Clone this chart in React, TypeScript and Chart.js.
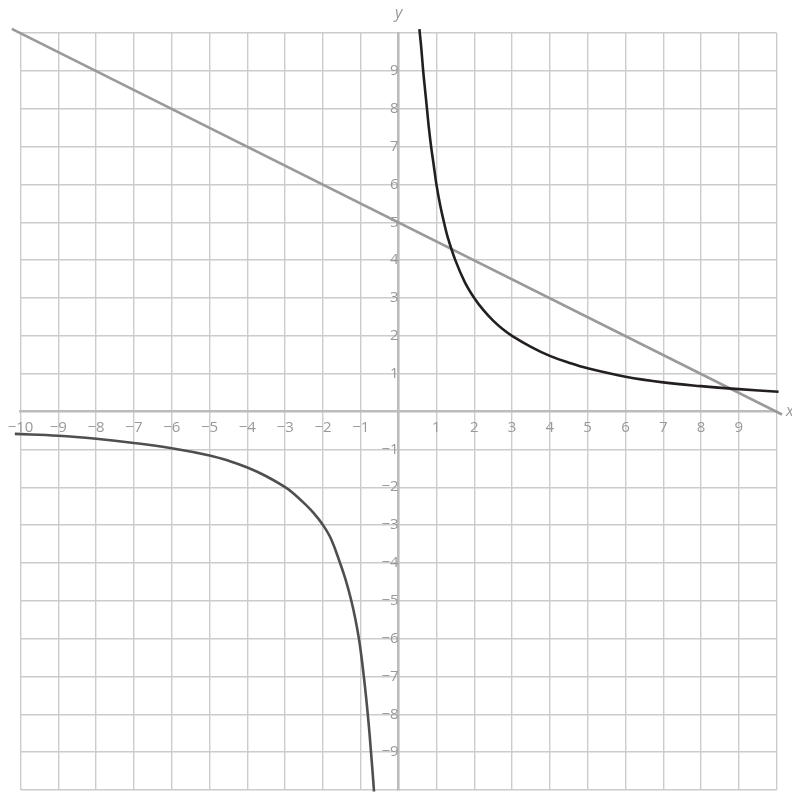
import React, { useEffect, useRef } from "react";
import { Chart, registerables } from "chart.js";

Chart.register(...registerables);

// Straight line
const lineX = [-10.23, 10.14];
const lineY = [10.11, -0.08];

// Upper branch of the curve
const upperX = [0.55, 0.6, 0.65, 0.7, 0.75, 0.8, 0.86, 0.93, 1, 1.1, 1.2, 1.3, 1.5, 1.75, 2, 2.25, 2.5, 2.75, 3, 3.5, 4, 4.5, 5, 6, 7, 8, 9, 10.05];
const upperY = [10.1, 9.6, 9, 8.5, 8, 7.5, 7, 6.5, 6, 5.45, 5, 4.6, 4, 3.42, 3, 2.67, 2.4, 2.18, 2, 1.71, 1.47, 1.29, 1.14, 0.92, 0.77, 0.67, 0.59, 0.52];

// Lower branch of the curve
const lowerX = [-10.15, -9, -8, -7, -6, -5, -4.5, -4, -3.5, -3, -2.75, -2.5, -2.25, -2, -1.78, -1.55, -1.4, -1.25, -1.14, -1.05, -0.98, -0.92, -0.865, -0.815, -0.77, -0.73, -0.69, -0.65];
const lowerY = [-0.59, -0.64, -0.72, -0.83, -0.97, -1.16, -1.3, -1.48, -1.71, -2, -2.19, -2.42, -2.68, -3, -3.38, -4, -4.45, -5, -5.5, -6, -6.5, -7, -7.5, -8, -8.5, -9, -9.5, -10.04];

// Tick labels shown on each axis
const xTickValues = [-10, -9, -8, -7, -6, -5, -4, -3, -2, -1, 1, 2, 3, 4, 5, 6, 7, 8, 9];
const yTickValues = [-9, -8, -7, -6, -5, -4, -3, -2, -1, 1, 2, 3, 4, 5, 6, 7, 8, 9];

const axisTitleX = "x";
const axisTitleY = "y";

const fmt = (v: number) => (v < 0 ? "\u2212" + Math.abs(v) : String(v));

const toPoints = (xs: number[], ys: number[]) => xs.map((x, i) => ({ x, y: ys[i] }));

export default function App() {
  const ref = useRef<HTMLCanvasElement | null>(null);

  useEffect(() => {
    if (!ref.current) return;
    const labelColor = "#999999";
    const titlePlugin = {
      id: "axisTitles",
      afterDraw(chart: any) {
        const ctx = chart.ctx;
        const xs = chart.scales.x;
        const ys = chart.scales.y;
        ctx.save();
        ctx.fillStyle = labelColor;
        ctx.font = "italic 16px 'Open Sans'";
        ctx.textBaseline = "middle";
        ctx.textAlign = "center";
        ctx.fillText(axisTitleY, xs.getPixelForValue(0), 13);
        ctx.textAlign = "left";
        ctx.fillText(axisTitleX, 786, ys.getPixelForValue(0));
        ctx.restore();
      },
    };

    const gridColor = (c: any) => (c.tick && c.tick.value === 0 ? "rgba(0,0,0,0)" : "#cccccc");
    const allTicks = (s: any) => {
      const t = [];
      for (let v = -10; v <= 10; v++) t.push({ value: v });
      s.ticks = t;
    };
    const noPad = (s: any) => {
      s.paddingTop = 0;
      s.paddingBottom = 0;
      s.paddingLeft = 0;
      s.paddingRight = 0;
    };

    const curve = {
      fill: false,
      pointRadius: 0,
      borderWidth: 2.6,
      tension: 0.4,
      capBezierPoints: false,
      clip: false,
    };

    const chart = new Chart(ref.current, {
      type: "line",
      data: {
        datasets: [
          { ...curve, data: toPoints(upperX, upperY), borderColor: "#231f20" } as any,
          { ...curve, data: toPoints(lowerX, lowerY), borderColor: "#4f4f4f" } as any,
          { ...curve, tension: 0, data: toPoints(lineX, lineY), borderColor: "#9a9a9a" } as any,
        ],
      },
      options: {
        animation: false,
        responsive: false,
        devicePixelRatio: 1,
        layout: { padding: { left: 20.5, top: 33, right: 15.3, bottom: 3 } },
        plugins: { legend: { display: false }, tooltip: { enabled: false } },
        events: [],
        scales: {
          x: {
            type: "linear",
            min: -10,
            max: 10,
            position: { y: 0 } as any,
            afterBuildTicks: allTicks,
            afterFit: noPad,
            ticks: {
              autoSkip: false,
              maxRotation: 0,
              padding: 7,
              color: labelColor,
              font: { family: "'Open Sans'", size: 15 },
              callback: (v: any) => (xTickValues.includes(Number(v)) ? fmt(Number(v)) : ""),
            },
            grid: { color: gridColor, lineWidth: 1.4, drawTicks: false },
            border: { color: "#bcbcbc", width: 2.6 },
          },
          y: {
            type: "linear",
            min: -10,
            max: 10,
            position: { x: 0 } as any,
            afterBuildTicks: allTicks,
            afterFit: noPad,
            ticks: {
              autoSkip: false,
              padding: 9,
              color: labelColor,
              font: { family: "'Open Sans'", size: 15 },
              callback: (v: any) => (yTickValues.includes(Number(v)) ? fmt(Number(v)) : ""),
            },
            grid: { color: gridColor, lineWidth: 1.4, drawTicks: false },
            border: { color: "#bcbcbc", width: 2.6 },
          },
        },
      },
      plugins: [titlePlugin],
    });
    return () => chart.destroy();
  }, []);

  return (
    <div style={{ position: "absolute", left: 0, top: 0, width: 792, height: 793, background: "#fff" }}>
      <canvas ref={ref} width={792} height={793} style={{ display: "block" }} />
    </div>
  );
}
